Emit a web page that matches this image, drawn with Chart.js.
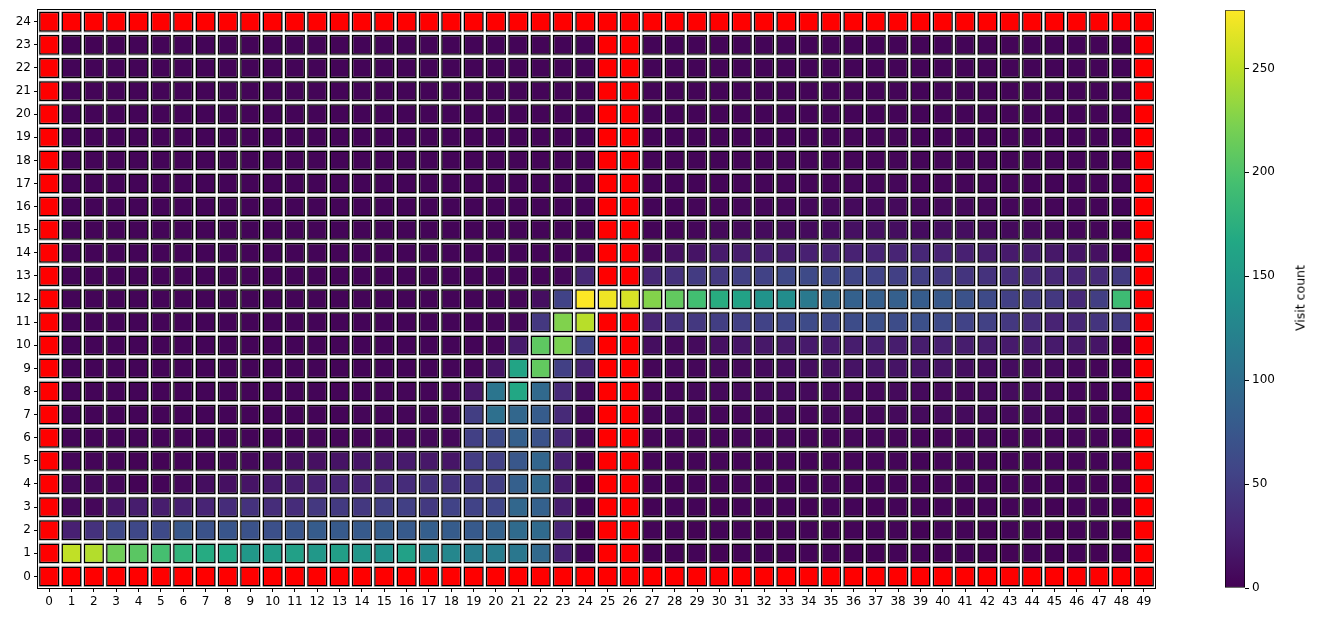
<!DOCTYPE html>
<html><head><meta charset="utf-8">
<script src="https://cdn.jsdelivr.net/npm/chart.js@4.4.0/dist/chart.umd.min.js"></script>
<style>
html,body{margin:0;padding:0;background:#fff;}
#wrap{position:relative;width:1317px;height:621px;overflow:hidden;background:#fff;}
#main{position:absolute;left:0;top:0;width:1160px;height:621px;}
#cbar{position:absolute;left:1190px;top:0;width:127px;height:621px;}
#cblabel{position:absolute;left:1300px;top:298px;transform:translate(-50%,-50%) rotate(-90deg);font:12.5px 'DejaVu Sans';white-space:nowrap;color:#000;}
</style></head>
<body>
<div id="wrap">
  <div id="main"><canvas id="c1"></canvas></div>
  <div id="cbar"><canvas id="c2"></canvas></div>
  <div id="cblabel">Visit count</div>
</div>
<script>
const N = null; // wall cell
const xLabels = ['0','1','2','3','4','5','6','7','8','9','10','11','12','13','14','15','16','17','18','19','20','21','22','23','24','25','26','27','28','29','30','31','32','33','34','35','36','37','38','39','40','41','42','43','44','45','46','47','48','49'];
const yCategories = [0,1,2,3,4,5,6,7,8,9,10,11,12,13,14,15,16,17,18,19,20,21,22,23,24];
const yBoundaries = [-0.5,0.5,1.5,2.5,3.5,4.5,5.5,6.5,7.5,8.5,9.5,10.5,11.5,12.5,13.5,14.5,15.5,16.5,17.5,18.5,19.5,20.5,21.5,22.5,23.5,24.5];
const colorbarTicks = [0,50,100,150,200,250];

// visit counts, index = row (y value), null = wall
const row0  = [N,N,N,N,N,N,N,N,N,N,N,N,N,N,N,N,N,N,N,N,N,N,N,N,N,N,N,N,N,N,N,N,N,N,N,N,N,N,N,N,N,N,N,N,N,N,N,N,N,N];
const row1  = [N,252,246,216,206,195,180,170,165,148,152,157,148,155,145,140,158,130,128,118,117,110,94,25,3,N,N,2,2,3,2,3,3,2,3,3,2,2,3,3,2,3,2,2,3,2,3,2,2,N];
const row2  = [N,25,40,60,60,62,75,70,73,70,68,73,80,78,78,80,78,83,80,78,87,97,96,28,2,N,N,3,3,2,3,3,2,3,3,2,3,3,3,2,3,3,2,3,3,2,3,3,2,N];
const row3  = [N,6,5,15,22,22,24,28,35,40,36,35,45,47,45,50,52,46,55,55,58,92,86,22,3,N,N,2,3,3,2,3,3,3,2,3,3,2,3,3,3,2,3,3,3,2,3,3,2,N];
const row4  = [N,6,6,5,2,3,6,10,12,15,20,22,25,28,27,32,35,38,40,46,51,84,94,20,1,N,N,3,2,3,3,4,3,3,3,4,3,3,3,3,4,3,3,3,3,3,3,2,2,N];
const row5  = [N,4,3,3,2,2,3,4,5,6,8,10,12,14,16,18,20,18,16,49,53,75,90,24,3,N,N,3,3,3,4,3,3,4,3,3,4,4,3,3,4,4,3,3,3,4,3,3,3,N];
const row6  = [N,3,3,3,3,3,3,3,3,3,3,3,4,4,4,5,5,6,6,52,62,84,70,30,6,N,N,4,4,4,4,5,4,5,4,4,5,5,4,4,4,4,5,4,4,4,4,4,3,N];
const row7  = [N,3,3,3,3,3,3,3,3,3,3,3,3,3,4,4,4,5,6,50,102,92,80,33,6,N,N,4,5,5,5,5,6,6,5,6,6,6,7,8,8,8,7,7,7,6,5,5,4,N];
const row8  = [N,3,3,3,3,3,3,3,3,3,3,3,3,3,3,4,4,4,5,18,108,166,94,33,8,N,N,5,5,6,6,7,8,8,7,7,6,6,7,7,6,6,7,8,8,6,5,4,3,N];
const row9  = [N,3,3,3,3,3,3,3,3,3,3,3,3,3,3,3,3,3,4,4,14,162,210,52,26,N,N,4,5,5,6,6,8,9,10,12,14,15,15,15,14,10,9,9,8,8,5,4,3,N];
const row10 = [N,3,3,3,3,3,3,3,3,3,3,3,3,3,3,3,3,3,3,3,4,20,208,222,55,N,N,10,6,8,12,16,18,18,20,20,22,24,22,22,24,22,22,20,20,20,18,16,2,N];
const row11 = [N,3,3,3,3,3,3,3,3,3,3,3,3,3,3,3,3,3,3,3,4,5,45,225,248,N,N,28,40,45,50,52,55,58,63,60,64,68,64,68,62,55,53,45,36,27,30,42,48,N];
const row12 = [N,3,3,3,3,3,3,3,3,3,3,3,3,3,3,3,3,3,3,3,3,4,10,55,278,272,262,226,210,193,172,160,142,135,112,92,86,83,84,80,76,70,62,52,48,45,32,50,190,N];
const row13 = [N,3,3,3,3,3,3,3,3,3,3,3,3,3,3,3,3,3,3,3,3,3,3,5,30,N,N,30,38,48,45,52,54,60,62,60,57,55,52,50,45,42,40,36,33,30,29,33,47,N];
const row14 = [N,3,3,3,3,3,3,3,3,3,3,3,3,3,3,3,3,3,3,3,3,3,3,3,4,N,N,6,12,15,20,22,25,22,25,26,26,28,28,30,27,25,22,20,20,18,15,12,3,N];
const row15 = [N,3,3,3,3,3,3,3,3,3,3,3,3,3,3,3,3,3,3,3,3,3,3,3,3,N,N,3,4,5,6,7,8,8,8,9,12,12,10,9,10,10,8,7,7,6,5,4,3,N];
const row16 = [N,3,3,3,3,3,3,3,3,3,3,3,3,3,3,3,3,3,3,3,3,3,3,3,3,N,N,3,3,4,4,5,5,5,6,6,7,7,7,6,6,6,5,5,4,4,4,3,3,N];
const row17 = [N,3,3,3,3,3,3,3,3,3,3,3,3,3,3,3,3,3,3,3,3,3,3,3,3,N,N,3,3,3,3,4,4,4,4,4,5,5,5,4,4,4,4,4,3,3,3,3,3,N];
const row18 = [N,3,3,3,3,3,3,3,3,3,3,3,3,3,3,3,3,3,3,3,3,3,3,3,3,N,N,3,3,3,3,3,3,4,4,4,4,4,4,4,4,3,3,3,3,3,3,3,3,N];
const row19 = [N,3,3,3,3,3,3,3,3,3,3,3,3,3,3,3,3,3,3,3,3,3,3,3,3,N,N,3,3,3,3,3,3,3,3,3,4,4,4,3,3,3,3,3,3,3,3,3,3,N];
const row20 = [N,3,3,3,3,3,3,3,3,3,3,3,3,3,3,3,3,3,3,3,3,3,3,3,3,N,N,3,3,3,3,3,3,3,3,3,3,3,3,3,3,3,3,3,3,3,3,3,3,N];
const row21 = [N,3,3,3,3,3,3,3,3,3,3,3,3,3,3,3,3,3,3,3,3,3,3,3,3,N,N,3,3,3,3,3,3,3,3,3,3,3,3,3,3,3,3,3,3,3,3,3,3,N];
const row22 = [N,3,3,3,3,3,3,3,3,3,3,3,3,3,3,3,3,3,3,3,3,3,3,3,3,N,N,3,3,3,3,3,3,3,3,3,3,3,3,3,3,3,3,3,3,3,3,3,3,N];
const row23 = [N,2,2,2,3,3,3,3,3,3,3,3,3,3,3,3,3,3,3,3,3,3,3,3,3,N,N,3,3,3,3,3,3,3,3,3,3,3,3,3,3,3,3,3,3,3,3,3,2,N];
const row24 = [N,N,N,N,N,N,N,N,N,N,N,N,N,N,N,N,N,N,N,N,N,N,N,N,N,N,N,N,N,N,N,N,N,N,N,N,N,N,N,N,N,N,N,N,N,N,N,N,N,N];
const visitRows = [row0,row1,row2,row3,row4,row5,row6,row7,row8,row9,row10,row11,row12,row13,row14,row15,row16,row17,row18,row19,row20,row21,row22,row23,row24];

const colorMax = 278;
const WALL = '#ff0000';
const CELL_HALF = 0.43;
const VIRIDIS = ['#440154','#482475','#414487','#355f8d','#2a788e','#21918c','#22a884','#44bf70','#7ad151','#bddf26','#fde725'];
function hex2rgb(h){return [parseInt(h.slice(1,3),16),parseInt(h.slice(3,5),16),parseInt(h.slice(5,7),16)];}
function viridis(t){
  t = Math.max(0, Math.min(1, t));
  const s = t * 10, i = Math.min(9, Math.floor(s)), f = s - i;
  const a = hex2rgb(VIRIDIS[i]), b = hex2rgb(VIRIDIS[i+1]);
  return 'rgb(' + [0,1,2].map(k => Math.round(a[k] + (b[k]-a[k])*f)).join(',') + ')';
}

Chart.defaults.font.family = "'DejaVu Sans', sans-serif";
Chart.defaults.font.size = 12;
Chart.defaults.color = '#000';

const datasets = yCategories.map(r => ({
  label: 'row ' + r,
  data: visitRows[r].map(() => [r - CELL_HALF, r + CELL_HALF]),
  backgroundColor: visitRows[r].map(v => v === null ? WALL : viridis(v / colorMax)),
  borderColor: '#000',
  borderWidth: 1.5,
  borderSkipped: false,
  grouped: false,
  barPercentage: 0.9,
  categoryPercentage: 1.0
}));

const bgPlugin = {
  id: 'bg',
  beforeDraw(chart) {
    const {ctx, chartArea: a} = chart;
    ctx.save(); ctx.fillStyle = '#cfcfcf';
    ctx.fillRect(a.left, a.top, a.right - a.left, a.bottom - a.top);
    ctx.restore();
  },
  afterDraw(chart) {
    const {ctx, chartArea: a} = chart;
    ctx.save(); ctx.strokeStyle = '#000'; ctx.lineWidth = 1;
    ctx.strokeRect(Math.round(a.left) - 0.5, Math.round(a.top) - 0.5, Math.round(a.right - a.left) + 1, Math.round(a.bottom - a.top) + 1);
    ctx.restore();
  }
};

new Chart(document.getElementById('c1'), {
  type: 'bar',
  data: { labels: xLabels, datasets },
  options: {
    responsive: true, maintainAspectRatio: false, animation: false,
    layout: { padding: { left: 0, right: 5, top: 8, bottom: 0 } },
    plugins: { legend: { display: false }, tooltip: { enabled: false } },
    scales: {
      x: {
        type: 'category', position: 'bottom', offset: true,
        grid: { display: true, drawOnChartArea: false, drawTicks: true, tickLength: 4, offset: false, tickColor: '#000', tickWidth: 1 },
        border: { display: false },
        ticks: { color: '#000', padding: 3, maxRotation: 0, autoSkip: false },
        afterFit(s) { s.height = 33; }
      },
      xg: {
        type: 'category', position: 'top', offset: true,
        grid: { display: true, offset: true, color: '#ffffff', lineWidth: 1.5, drawTicks: false },
        border: { display: false },
        ticks: { display: false },
        afterFit(s) { s.height = 0; }
      },
      y: {
        type: 'linear', position: 'left', min: -0.5, max: 24.5,
        afterBuildTicks(s) { s.ticks = yCategories.map(v => ({ value: v })); },
        grid: { drawOnChartArea: false, tickLength: 4, tickColor: '#000' },
        border: { display: false },
        ticks: { color: '#000', padding: 3, autoSkip: false, callback: v => String(v) },
        afterFit(s) { s.width = 38; }
      },
      yg: {
        type: 'linear', position: 'right', min: -0.5, max: 24.5,
        afterBuildTicks(s) { s.ticks = yBoundaries.map(v => ({ value: v })); },
        grid: { color: '#ffffff', lineWidth: 1.5, drawTicks: false },
        border: { display: false },
        ticks: { display: false },
        afterFit(s) { s.width = 0; }
      }
    }
  },
  plugins: [bgPlugin]
});

new Chart(document.getElementById('c2'), {
  type: 'bar',
  data: {
    labels: ['Visit count'],
    datasets: [{
      data: [[0, colorMax]],
      backgroundColor: (c) => {
        const a = c.chart.chartArea;
        if (!a) return VIRIDIS[0];
        const g = c.chart.ctx.createLinearGradient(0, a.bottom, 0, a.top);
        for (let i = 0; i <= 50; i++) g.addColorStop(i / 50, viridis(i / 50));
        return g;
      },
      borderColor: '#000', borderWidth: 1, borderSkipped: false,
      barPercentage: 1, categoryPercentage: 1
    }]
  },
  options: {
    responsive: true, maintainAspectRatio: false, animation: false,
    layout: { padding: { left: 35, right: 0, top: 8, bottom: 33 } },
    plugins: { legend: { display: false }, tooltip: { enabled: false } },
    scales: {
      x: { display: false, offset: true },
      y: {
        position: 'right', min: 0, max: colorMax,
        afterBuildTicks(s) { s.ticks = colorbarTicks.map(v => ({ value: v })); },
        grid: { drawOnChartArea: false, tickLength: 4, tickColor: '#000' },
        border: { display: false },
        ticks: { color: '#000', padding: 3 },
        afterFit(s) { s.width = 72; }
      }
    }
  }
});
</script>
</body></html>
